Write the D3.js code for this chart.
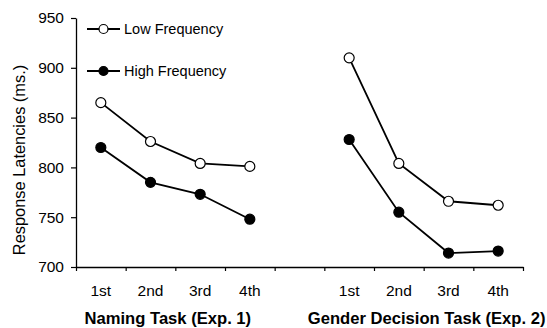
<!DOCTYPE html>
<html>
<head>
<meta charset="utf-8">
<script src="https://cdn.jsdelivr.net/npm/d3@7"></script>
<style>
  body { margin: 0; background: #fff; }
  svg { font-family: "Liberation Sans", Arial, sans-serif; }
</style>
</head>
<body>
<div id="chart"></div>
<script>
// categories along the x axis (blank slot separates the two experiments)
const categories = ["1st", "2nd", "3rd", "4th", "", "1st ", "2nd ", "3rd ", "4th "];
const namingSlots = ["1st", "2nd", "3rd", "4th"];
const genderSlots = ["1st ", "2nd ", "3rd ", "4th "];

// response latencies (ms)
const namingLow = [865, 826, 804, 801];
const namingHigh = [820, 785, 773, 748];
const genderLow = [910, 804, 766, 762];
const genderHigh = [828, 755, 714, 716];

const yTicks = [700, 750, 800, 850, 900, 950];
const groupLabels = ["Naming Task (Exp. 1)", "Gender Decision Task (Exp. 2)"];
const legendLabels = ["Low Frequency", "High Frequency"];

const cfg = {
    width: 547,
    height: 328,
    left: 76,
    right: 523,
    top: 18,
    bottom: 267,
    r: 5,
};

const svg = d3.select("#chart")
    .append("svg")
    .attr("width", cfg.width)
    .attr("height", cfg.height);

// scales
const x = d3.scaleBand()
    .domain(categories)
    .range([cfg.left, cfg.right]);
const y = d3.scaleLinear()
    .domain([700, 950])
    .range([cfg.bottom, cfg.top]);
const xEdge = d3.scaleLinear()
    .domain([0, categories.length])
    .range([cfg.left, cfg.right]);

// y axis
const yAxis = svg.append("g")
    .attr("transform", "translate(" + cfg.left + ",0)")
    .call(d3.axisLeft(y).tickValues(yTicks).tickSize(5).tickSizeOuter(0));
yAxis.select(".domain").attr("stroke", "#000").attr("stroke-width", 1.3);
yAxis.selectAll(".tick line").attr("stroke-width", 1.2);
yAxis.selectAll("text")
    .attr("x", -12)
    .attr("font-size", 15.5)
    .attr("fill", "#000");

// x axis: tick marks on category edges
const xAxis = svg.append("g")
    .attr("transform", "translate(0," + cfg.bottom + ")")
    .call(d3.axisBottom(xEdge)
        .tickValues(d3.range(categories.length + 1))
        .tickFormat("")
        .tickSize(4)
        .tickSizeOuter(0));
xAxis.select(".domain").attr("stroke", "#000").attr("stroke-width", 1.3);
xAxis.selectAll(".tick line").attr("stroke-width", 1.2);

// x category labels
svg.append("g")
    .selectAll("text")
    .data(categories)
    .enter()
    .append("text")
    .attr("x", d => x(d) + x.bandwidth() / 2)
    .attr("y", cfg.bottom + 29)
    .attr("text-anchor", "middle")
    .attr("font-size", 15.5)
    .text(d => d.trim());

// group labels (text boxes sit a little off the band centres)
const groupCenters = [
    (x("1st") + x("4th") + x.bandwidth()) / 2 - 7.5,
    (x("1st ") + x("4th ") + x.bandwidth()) / 2 + 3,
];
svg.append("g")
    .selectAll("text")
    .data(groupLabels)
    .enter()
    .append("text")
    .attr("x", (d, i) => groupCenters[i])
    .attr("y", cfg.bottom + 57)
    .attr("text-anchor", "middle")
    .attr("font-size", 16.6)
    .attr("font-weight", "bold")
    .text(d => d);

// y title
svg.append("text")
    .attr("transform", "translate(24.5,160) rotate(-90)")
    .attr("text-anchor", "middle")
    .attr("font-size", 16.4)
    .text("Response Latencies (ms.)");

// series
const series = [
    { slots: namingSlots, values: namingLow, fill: "#fff" },
    { slots: namingSlots, values: namingHigh, fill: "#000" },
    { slots: genderSlots, values: genderLow, fill: "#fff" },
    { slots: genderSlots, values: genderHigh, fill: "#000" },
];

const line = d3.line()
    .x(d => x(d[0]) + x.bandwidth() / 2)
    .y(d => y(d[1]));

series.forEach(s => {
    const pts = s.slots.map((c, i) => [c, s.values[i]]);
    svg.append("path")
        .datum(pts)
        .attr("d", line)
        .attr("fill", "none")
        .attr("stroke", "#000")
        .attr("stroke-width", 1.8);
    svg.append("g")
        .selectAll("circle")
        .data(pts)
        .enter()
        .append("circle")
        .attr("cx", d => x(d[0]) + x.bandwidth() / 2)
        .attr("cy", d => y(d[1]))
        .attr("r", cfg.r)
        .attr("fill", s.fill)
        .attr("stroke", "#000")
        .attr("stroke-width", 1.2);
});

// legend
const legendY = [29, 71];
const legendFills = ["#fff", "#000"];
const legend = svg.append("g");
legendLabels.forEach((lab, i) => {
    legend.append("line")
        .attr("x1", 87).attr("x2", 120)
        .attr("y1", legendY[i]).attr("y2", legendY[i])
        .attr("stroke", "#000")
        .attr("stroke-width", 1.8);
    legend.append("circle")
        .attr("cx", 103.5)
        .attr("cy", legendY[i])
        .attr("r", cfg.r - 0.5)
        .attr("fill", legendFills[i])
        .attr("stroke", "#000")
        .attr("stroke-width", 1.2);
    legend.append("text")
        .attr("x", 124)
        .attr("y", legendY[i] + 5)
        .attr("font-size", 14.5)
        .text(lab);
});
</script>
</body>
</html>
